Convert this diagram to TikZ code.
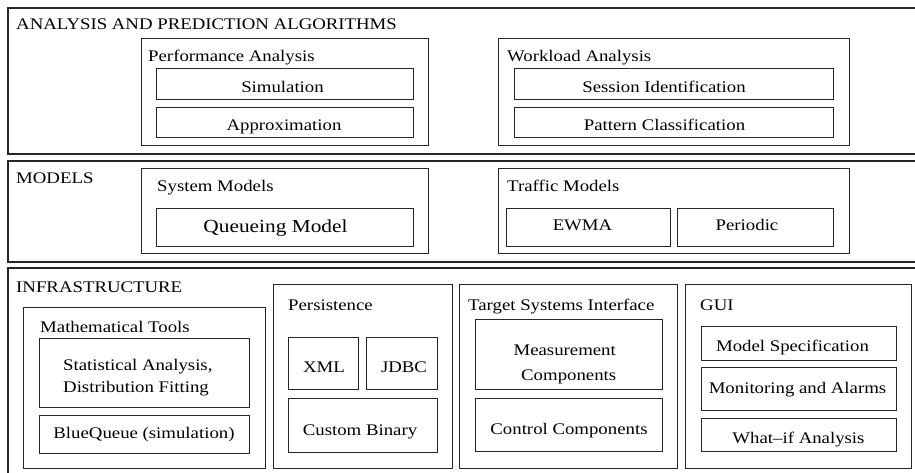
\documentclass[tikz,border=0pt]{standalone}
\usepackage{fontspec}
\setmainfont{Liberation Serif}[FakeStretch=1.16]
\begin{document}
\begin{tikzpicture}[x=1pt,y=-1pt,
  band/.style={draw=black!85,line width=1.2pt},
  box/.style={draw=black!85,line width=1pt,inner sep=0pt},
  ttl/.style={anchor=base west,inner sep=0pt,font=\fontsize{16.2}{19}\selectfont},
  lbl/.style={anchor=base,inner sep=0pt,font=\fontsize{16.2}{19}\selectfont},
  big/.style={font=\fontsize{18.4}{21}\selectfont}]
\newcommand\bx[5]{%
 \pgfmathsetmacro\bxw{#4-#2}\pgfmathsetmacro\bxh{#5-#3}%
 \node[box,minimum width=\bxw pt,minimum height=\bxh pt] (#1) at ({(#2+#4)/2},{(#3+#5)/2}) {};}
\useasboundingbox (0,0) rectangle (915,473);
\clip (0,0) rectangle (915,473);
% bands
\draw[band] (8,8) rectangle (935,154);
\draw[band] (8,161) rectangle (935,262);
\draw[band] (8,268) rectangle (935,495);
\node[ttl] (tAPA) at (16,30) {ANALYSIS AND PREDICTION ALGORITHMS};
\node[ttl] (tMOD) at (16,183) {MODELS};
\node[ttl] (tINF) at (16,292) {INFRASTRUCTURE};
% analysis
\bx{perf}{141}{39}{428}{146}
\node[ttl] (tperf) at (148,62) {Performance Analysis};
\bx{sim}{156}{69}{413}{100}
\node[lbl] (lsim) at (282.5,93) {Simulation};
\bx{approx}{156}{108}{413}{138}
\node[lbl] (lapprox) at (284,130.5) {Approximation};
\bx{work}{498}{39}{849}{146}
\node[ttl] (twork) at (507,62) {Workload Analysis};
\bx{sess}{514}{69}{833}{100}
\node[lbl] (lsess) at (664,93) {Session Identification};
\bx{patt}{514}{108}{833}{138}
\node[lbl] (lpatt) at (664.5,130.5) {Pattern Classification};
% models
\bx{sysm}{141}{169}{428}{253}
\node[ttl] (tsysm) at (157,192) {System Models};
\bx{queue}{156}{208}{413}{246}
\node[lbl,big] (lqueue) at (275.5,232.3) {Queueing Model};
\bx{traf}{498}{169}{849}{253}
\node[ttl] (ttraf) at (507,192) {Traffic Models};
\bx{ewma}{506}{208}{670}{246}
\node[lbl] (lewma) at (582.5,230.5) {EWMA};
\bx{peri}{677}{208}{833}{246}
\node[lbl] (lperi) at (747,230.5) {Periodic};
% infrastructure
\bx{math}{23}{307}{265}{468}
\node[ttl] (tmath) at (40,332) {Mathematical Tools};
\bx{stat}{39}{338}{249}{407}
\node[ttl] (lstat1) at (63,370.7) {Statistical Analysis,};
\node[ttl] (lstat2) at (63,392.5) {Distribution Fitting};
\bx{blue}{39}{415}{249}{453}
\node[lbl] (lblue) at (144,438.3) {BlueQueue (simulation)};
\bx{pers}{273}{284}{452}{468}
\node[ttl] (tpers) at (288,310.5) {Persistence};
\bx{xml}{288}{337}{358}{389}
\node[lbl] (lxml) at (324,372.7) {XML};
\bx{jdbc}{366}{337}{437}{389}
\node[lbl] (ljdbc) at (404,372.7) {JDBC};
\bx{cbin}{288}{398}{437}{452}
\node[lbl] (lcbin) at (360,435) {Custom Binary};
\bx{tsi}{459}{284}{677}{468}
\node[ttl] (ttsi) at (468,310) {Target Systems Interface};
\bx{meas}{475}{319}{662}{389}
\node[lbl] (lmeas1) at (564.7,355.7) {Measurement};
\node[lbl] (lmeas2) at (568.7,380.3) {Components};
\bx{ctrl}{475}{398}{662}{451}
\node[lbl] (lctrl) at (569,434) {Control Components};
\bx{gui}{685}{284}{911}{468}
\node[ttl] (tgui) at (700,310) {GUI};
\bx{mspec}{701}{326}{896}{360}
\node[lbl] (lmspec) at (792.5,351.7) {Model Specification};
\bx{mon}{701}{367}{896}{410}
\node[lbl] (lmon) at (797.5,393) {Monitoring and Alarms};
\bx{whatif}{701}{418}{896}{451}
\node[lbl] (lwhatif) at (798.5,443.3) {What--if Analysis};
\end{tikzpicture}
\end{document}
